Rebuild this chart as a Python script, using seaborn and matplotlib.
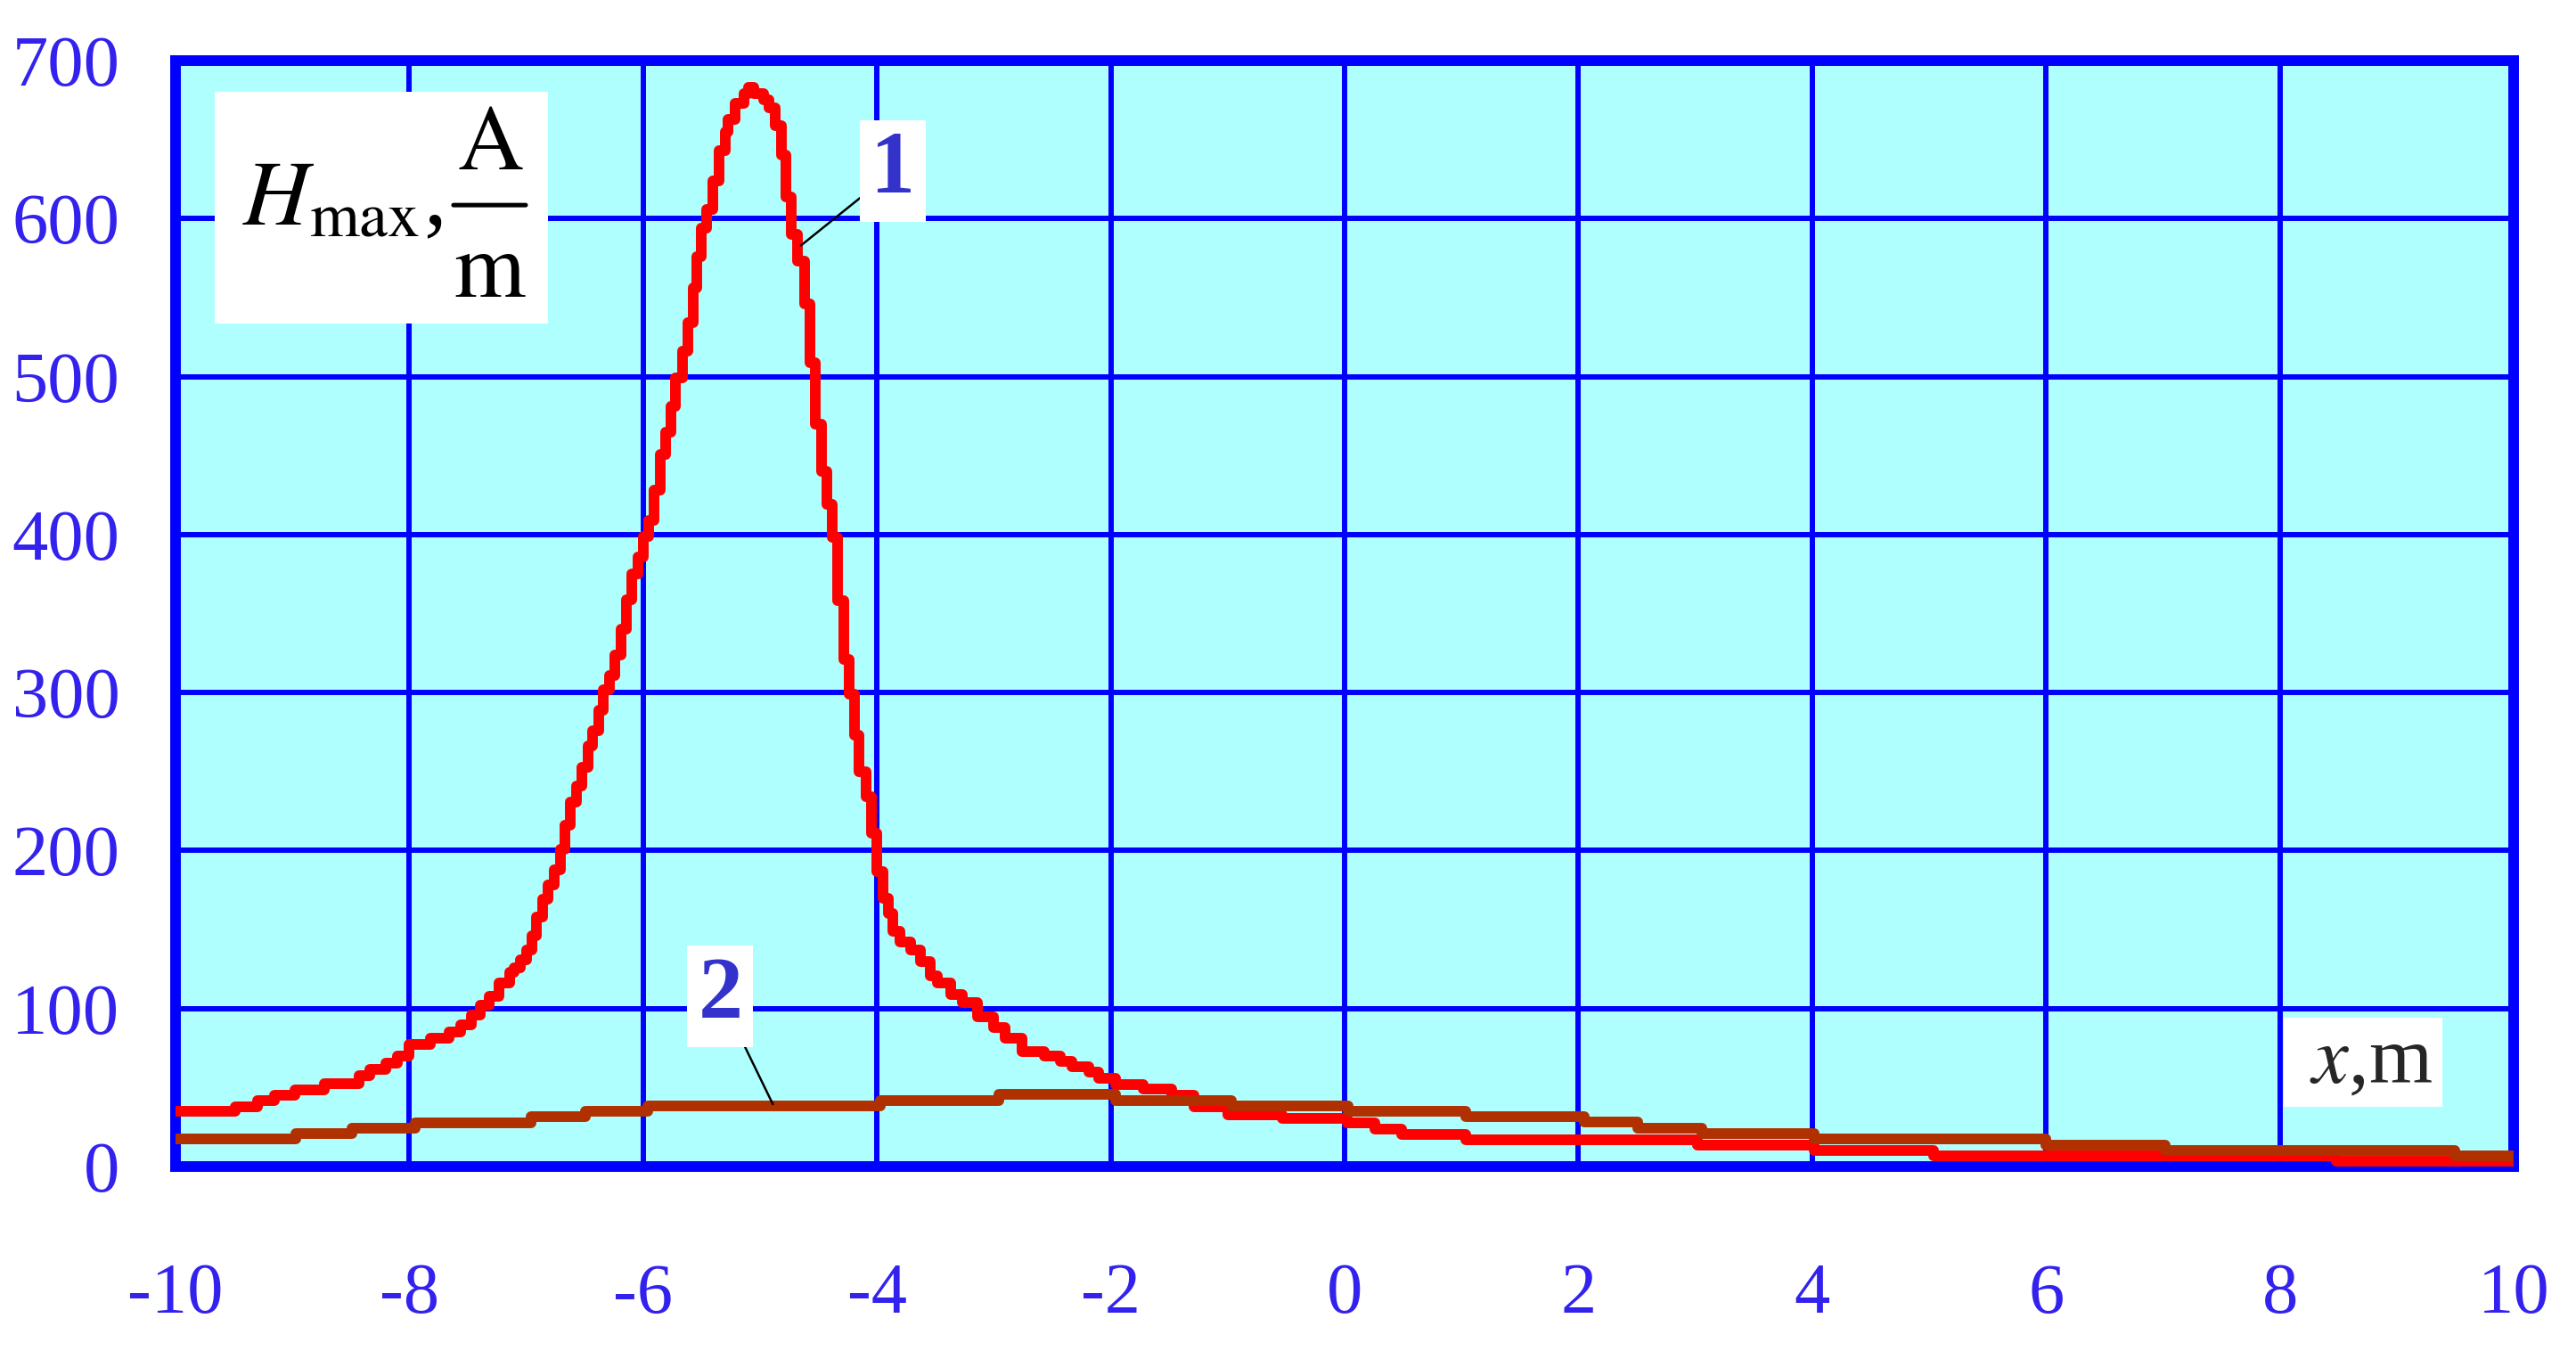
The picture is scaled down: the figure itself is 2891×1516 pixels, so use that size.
import numpy as np
import pandas as pd
import matplotlib
matplotlib.use('Agg')
import matplotlib.pyplot as plt
from matplotlib.patches import Rectangle
import seaborn as sns

# curve 1 (red) - step levels, x = start of each step
red_x = [-10.0, -9.49, -9.30, -9.15, -8.98, -8.73, -8.43, -8.34, -8.20, -8.10,
         -8.00, -7.82, -7.66, -7.56, -7.47, -7.39, -7.32, -7.23, -7.14, -7.10,
         -7.05, -7.00, -6.95, -6.91, -6.86, -6.81, -6.76, -6.71, -6.67, -6.62,
         -6.57, -6.52, -6.47, -6.43, -6.38, -6.34, -6.29, -6.24, -6.19, -6.14,
         -6.10, -6.04, -6.00, -5.95, -5.91, -5.85, -5.81, -5.76, -5.72, -5.66,
         -5.62, -5.57, -5.54, -5.50, -5.46, -5.40, -5.35, -5.30, -5.27, -5.21,
         -5.14, -5.10, -5.05, -4.97, -4.92, -4.87, -4.82, -4.78, -4.73, -4.68,
         -4.62, -4.57, -4.53, -4.47, -4.43, -4.38, -4.34, -4.28, -4.24, -4.19,
         -4.15, -4.09, -4.05, -4.00, -3.95, -3.90, -3.86, -3.80, -3.71, -3.63,
         -3.54, -3.48, -3.37, -3.27, -3.14, -3.00, -2.90, -2.76, -2.57, -2.43,
         -2.33, -2.19, -2.10, -1.96, -1.72, -1.48, -1.29, -1.00, -0.53, 0.02,
         0.26, 0.49, 1.04, 3.02, 4.02, 5.04, 8.48, 10.0]
red_y = [35, 38, 41.7, 45, 48.7, 52.4, 57.5, 61.5, 65.4, 70,
         77.4, 81, 85, 90, 96, 102, 108, 116, 123, 126,
         131, 137, 146, 158, 169, 178, 188, 201, 216, 231,
         241, 253, 266, 276, 289, 302, 311, 324, 340, 359,
         375, 386, 399, 409, 428, 451, 465, 481, 499, 516,
         534, 556, 576, 594, 606, 624, 643, 655, 663, 673,
         679, 683, 679, 675, 670, 659, 640, 614, 590, 573,
         546, 509, 470, 440, 419, 398, 358, 321, 299, 273,
         250, 234, 211, 187, 170, 160, 149, 142, 137, 130,
         121, 116, 109, 104, 95, 88, 81, 73, 70, 66.5,
         63, 60, 56, 52, 49, 45, 38, 33, 30.4, 27.6,
         24, 20.5, 17, 13.5, 10, 6.8, 3.4, 3.4]

# curve 2 (brown)
brown_x = [-10.0, -8.97, -8.49, -7.95, -6.96, -6.49, -5.96, -3.97, -2.96, -1.96,
           -0.97, 0.03, 1.04, 2.05, 2.51, 3.06, 4.02, 6.0, 7.02, 9.5, 10.0]
brown_y = [17.3, 20.7, 24.3, 27.6, 31.4, 34.8, 38.4, 41.7, 45.5, 41.7,
           38.4, 34.8, 31.4, 28, 24.4, 20.9, 17.3, 13.5, 10.2, 6.6, 6.6]

x_ticks = list(range(-10, 11, 2))
y_ticks = list(range(0, 701, 100))

df1 = pd.DataFrame({'x': red_x, 'H': red_y})
df2 = pd.DataFrame({'x': brown_x, 'H': brown_y})

sns.set_theme(style='white')
plt.rcParams['font.family'] = ['Liberation Serif', 'DejaVu Serif']
plt.rcParams['mathtext.fontset'] = 'stix'
plt.rcParams['axes.unicode_minus'] = False

blue = '#0000ff'
tick_col = '#3322ee'

fig = plt.figure(figsize=(28.91, 15.16), dpi=100)
fig.patch.set_facecolor('white')
ax = fig.add_axes([0.0681, 0.1365, 0.9077, 0.8186])
ax.set_facecolor('#b0ffff')

sns.lineplot(data=df1, x='x', y='H', ax=ax, color='#ff0000', lw=8.6,
             drawstyle='steps-post', estimator=None, sort=False, zorder=4)
sns.lineplot(data=df2, x='x', y='H', ax=ax, color='#b03000', lw=8.6,
             drawstyle='steps-post', estimator=None, sort=False, zorder=5)

ax.set_xlim(-10, 10)
ax.set_ylim(0, 700)
ax.set_xticks(x_ticks)
ax.set_yticks(y_ticks)
ax.set_xticklabels([str(v) for v in x_ticks])
ax.set_yticklabels([str(v) for v in y_ticks])
ax.tick_params(axis='both', length=0, labelsize=58, labelcolor=tick_col)
ax.tick_params(axis='x', pad=78)
ax.tick_params(axis='y', pad=45)
ax.set_xlabel('')
ax.set_ylabel('')

ax.grid(True, color=blue, lw=4.3)
ax.set_axisbelow(True)
for sp in ax.spines.values():
    sp.set_visible(True)
    sp.set_color(blue)
    sp.set_linewidth(8.6)

# y axis title: H_max, A/m in a white box
ax.add_patch(Rectangle((0.0168, 0.7623), 0.1425, 0.2095, transform=ax.transAxes,
                       fc='white', ec='none', zorder=6))
ax.text(0.0286, 0.8517, r'$H_{\mathrm{max}}$,', transform=ax.transAxes,
        fontsize=74, ha='left', va='baseline', color='black', zorder=7)
ax.text(0.1345, 0.9017, r'$\mathrm{A}$', transform=ax.transAxes,
        fontsize=74, ha='center', va='baseline', color='black', zorder=7)
ax.text(0.1345, 0.7865, r'$\mathrm{m}$', transform=ax.transAxes,
        fontsize=74, ha='center', va='baseline', color='black', zorder=7)
ax.annotate('', xy=(0.1189, 0.8694), xytext=(0.1498, 0.8694),
            xycoords='axes fraction', textcoords='axes fraction', zorder=7,
            arrowprops=dict(arrowstyle='-', color='black', lw=3.6,
                            shrinkA=0, shrinkB=0))

# x axis title
ax.text(8.71, 66, r' $x$,m ', fontsize=66, ha='center', va='center', zorder=6,
        bbox=dict(boxstyle='square,pad=0.1', fc='white', ec='none'))

# curve labels with leaders
ax.annotate('1', xy=(-4.65, 583), xytext=(-3.86, 630), fontsize=72,
            fontweight='bold', color='#3333cc', ha='center', va='center',
            zorder=6, bbox=dict(boxstyle='square,pad=0.12', fc='white', ec='none'),
            arrowprops=dict(arrowstyle='-', color='black', lw=1.8, shrinkA=0, shrinkB=0))
ax.annotate('2', xy=(-4.89, 39.5), xytext=(-5.34, 108), fontsize=72,
            fontweight='bold', color='#3333cc', ha='center', va='center',
            zorder=6, bbox=dict(boxstyle='square,pad=0.12', fc='white', ec='none'),
            arrowprops=dict(arrowstyle='-', color='black', lw=1.8, shrinkA=0, shrinkB=0))

fig.savefig('out.png', dpi=100)
